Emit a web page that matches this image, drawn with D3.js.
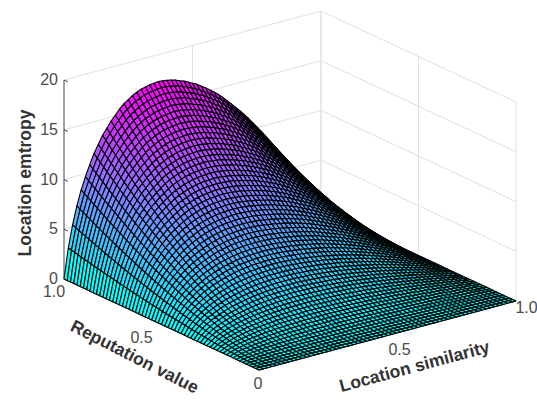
<!DOCTYPE html>
<html>
<head>
<meta charset="utf-8">
<style>
  html, body { margin: 0; padding: 0; background: #fff; }
  svg { display: block; }
  text { font-family: "Liberation Sans", Arial, sans-serif; }
</style>
<script src="https://cdn.jsdelivr.net/npm/d3@7"></script>
</head>
<body>
<script>
var wW = 537;
var wH = 401;

var similarityGrid = d3.range(0, 61).map(function(k) { return k / 60; });
var reputationGrid = d3.range(0, 61).map(function(k) { return k / 60; });

// height of the far edge (reputation = 1) read at each similarity mesh line
var edgeHeight = [
  0, 3.0, 5.2, 7.0, 8.5, 9.7, 10.8, 11.8, 12.6, 13.4,
  14.0, 14.6, 15.1, 15.6, 16.0, 16.3, 16.6, 16.8, 17.0, 17.1,
  17.2, 17.25, 17.3, 17.25, 17.2, 17.1, 17.0, 16.8, 16.65, 16.45,
  16.2, 16.0, 15.7, 15.4, 15.1, 14.75, 14.4, 14.0, 13.55, 13.1,
  12.65, 12.2, 11.7, 11.2, 10.65, 10.1, 9.55, 8.95, 8.35, 7.75,
  7.1, 6.45, 5.8, 5.1, 4.45, 3.75, 3.0, 2.3, 1.55, 0.8,
  0
];

// share of the edge height kept at each reputation mesh line (surface read as edge x share)
var reputationShare = [
  0, 0.0014, 0.0043, 0.0083, 0.0131, 0.0188, 0.0251, 0.0322, 0.0398, 0.0481,
  0.0569, 0.0663, 0.0761, 0.0866, 0.0975, 0.1088, 0.1206, 0.1329, 0.1457, 0.1588,
  0.1724, 0.1864, 0.2009, 0.2157, 0.2309, 0.2465, 0.2624, 0.2787, 0.2955, 0.3125,
  0.3299, 0.3475, 0.3657, 0.3842, 0.4030, 0.4222, 0.4416, 0.4616, 0.4815, 0.5020,
  0.5226, 0.5439, 0.5652, 0.5868, 0.6089, 0.6313, 0.6538, 0.6764, 0.6998, 0.7232,
  0.7470, 0.7711, 0.7953, 0.8204, 0.8449, 0.8702, 0.8958, 0.9213, 0.9474, 0.9734,
  1
];

var zTicks = [0, 5, 10, 15, 20];
var zTickLabels = ["0", "5", "10", "15", "20"];
var floorTicks = [0, 0.5, 1];
var floorTickLabels = ["0", "0.5", "1.0"];

var svg = d3.select("body").append("svg")
  .attr("width", wW)
  .attr("height", wH);

// oblique projection: each data axis adds its own pixel offset
var simX = d3.scaleLinear().domain([0, 1]).range([0, 257]);
var simY = d3.scaleLinear().domain([0, 1]).range([0, -69]);
var repX = d3.scaleLinear().domain([0, 1]).range([0, -195]);
var repY = d3.scaleLinear().domain([0, 1]).range([0, -91]);
var zY = d3.scaleLinear().domain([0, 20]).range([0, -199]);

var originX = 259;
var originY = 370;

var px = function(s, r) { return originX + simX(s) + repX(r); };
var py = function(s, r, z) { return originY + simY(s) + repY(r) + zY(z); };

var colorOf = d3.scaleLinear()
  .domain([0, d3.max(edgeHeight)])
  .range(["#00ffff", "#ff00ff"]);

var line3 = function(parent, a, b, color, width) {
  parent.append("line")
    .attr("x1", px(a[0], a[1])).attr("y1", py(a[0], a[1], a[2]))
    .attr("x2", px(b[0], b[1])).attr("y2", py(b[0], b[1], b[2]))
    .attr("stroke", color)
    .attr("stroke-width", width);
};

// walls and floor
var grid = svg.append("g");
var gridColor = "#e0e0e0";
zTicks.forEach(function(z) {
  line3(grid, [0, 1, z], [1, 1, z], gridColor, 1);
  line3(grid, [1, 1, z], [1, 0, z], gridColor, 1);
});
floorTicks.forEach(function(t) {
  line3(grid, [t, 1, 0], [t, 0, 0], gridColor, 1);
  line3(grid, [0, t, 0], [1, t, 0], gridColor, 1);
  if (t > 0) line3(grid, [t, 1, 0], [t, 1, 20], gridColor, t === 1 ? 1.5 : 1);
  if (t < 1) line3(grid, [1, t, 0], [1, t, 20], gridColor, 1);
});

// axes
var axes = svg.append("g");
var axisColor = "#444";
line3(axes, [0, 1, 0], [0, 1, 20], axisColor, 1);
line3(axes, [0, 1, 0], [0, 0, 0], axisColor, 1);
line3(axes, [0, 0, 0], [1, 0, 0], axisColor, 1);
zTicks.forEach(function(z) {
  line3(axes, [0, 1, z], [0, 0.98, z], axisColor, 1);
});
floorTicks.forEach(function(t) {
  line3(axes, [t, 0, 0], [t, 0.03, 0], axisColor, 1);
  line3(axes, [0, t, 0], [0.02, t, 0], axisColor, 1);
});

// surface, painted from the far corner towards the viewer
var surface = svg.append("g")
  .attr("stroke", "#000")
  .attr("stroke-width", 1.1)
  .attr("stroke-linejoin", "round")
  .style("filter", "blur(0.35px)");

var height = function(i, j) { return edgeHeight[i] * reputationShare[j]; };

for (var j = reputationGrid.length - 2; j >= 0; j--) {
  for (var i = similarityGrid.length - 2; i >= 0; i--) {
    var corners = [[i, j], [i + 1, j], [i + 1, j + 1], [i, j + 1]];
    var pts = corners.map(function(c) {
      var s = similarityGrid[c[0]];
      var r = reputationGrid[c[1]];
      return [px(s, r), py(s, r, height(c[0], c[1]))];
    });
    surface.append("path")
      .attr("d", "M" + pts.join("L") + "Z")
      .attr("fill", colorOf(height(i, j + 1)));
  }
}

// tick labels
var labels = svg.append("g")
  .attr("font-size", 16)
  .attr("fill", "#4a4a4a");

var repLabelDx = [0, -20, -10];
var simLabelDx = [-1, 12, 10.5];
var simLabelDy = [19, 19, 12];

zTicks.forEach(function(z, k) {
  labels.append("text")
    .attr("x", px(0, 1) - 6)
    .attr("y", py(0, 1, z) + 5)
    .attr("text-anchor", "end")
    .text(zTickLabels[k]);
});
floorTicks.forEach(function(t, k) {
  if (t > 0) {
    labels.append("text")
      .attr("x", px(0, t) + repLabelDx[k])
      .attr("y", py(0, t, 0) + 18)
      .attr("text-anchor", "middle")
      .text(floorTickLabels[k]);
  }
  labels.append("text")
    .attr("x", px(t, 0) + simLabelDx[k])
    .attr("y", py(t, 0, 0) + simLabelDy[k])
    .attr("text-anchor", "middle")
    .text(floorTickLabels[k]);
});

// axis titles
var title = function(txt, x, y, angle) {
  svg.append("text")
    .attr("transform", "translate(" + x + "," + y + ") rotate(" + angle + ")")
    .attr("text-anchor", "middle")
    .attr("font-size", 17.5)
    .attr("font-weight", "bold")
    .attr("fill", "#333")
    .text(txt);
};
title("Location emtropy", 31, 183, -90);
title("Reputation value", 132, 362, 27);
title("Location similarity", 416, 372, -15);
</script>
</body>
</html>
